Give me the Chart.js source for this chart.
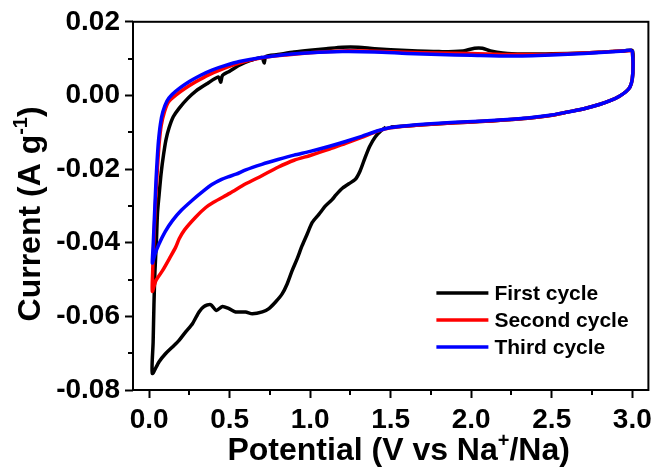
<!DOCTYPE html>
<html>
<head>
<meta charset="utf-8">
<style>
  html, body { margin: 0; padding: 0; background: #ffffff; }
  #wrap { width: 657px; height: 470px; }
</style>
<script src="https://cdn.jsdelivr.net/npm/chart.js@4.4.1/dist/chart.umd.min.js"></script>
</head>
<body>
<div id="wrap"><canvas id="cv" width="657" height="470"></canvas></div>
<script>
// Cyclic voltammograms, potential (V vs Na+/Na) against specific current (A/g)
const seriesNames = ['First cycle', 'Second cycle', 'Third cycle'];
const seriesColors = ['#000000', '#ff0000', '#0000ff'];

// First cycle: from the open-circuit start down to the vertex, back up to 3.0 V and down again
const firstX = [1.47, 1.44, 1.405, 1.37, 1.34, 1.31, 1.28, 1.24, 1.20, 1.16,
  1.136, 1.095, 1.054, 1.013, 0.981, 0.95, 0.919, 0.888, 0.857, 0.826,
  0.785, 0.744, 0.703, 0.641, 0.599, 0.537, 0.496, 0.455, 0.417, 0.382,
  0.341, 0.31, 0.269, 0.227, 0.186, 0.145, 0.103, 0.062, 0.02, 0.025,
  0.030, 0.036, 0.045, 0.052, 0.062, 0.075, 0.09, 0.105, 0.124, 0.15,
  0.186, 0.24, 0.29, 0.36, 0.43, 0.445, 0.455, 0.50, 0.56, 0.63,
  0.70, 0.715, 0.725, 0.80, 0.90, 1.00, 1.10, 1.20, 1.30, 1.40,
  1.60, 1.80, 1.95, 2.02, 2.07, 2.12, 2.25, 2.50, 2.70, 2.85,
  2.95, 3.00, 3.005, 3.0, 2.985, 2.96, 2.92, 2.87, 2.80, 2.70,
  2.60, 2.50, 2.35, 2.20, 2.05, 1.90, 1.75, 1.60, 1.50];
const firstY = [-0.0086, -0.0096, -0.0112, -0.0138, -0.0170, -0.0205, -0.0228, -0.0240, -0.0252, -0.0270,
  -0.0283, -0.0300, -0.0323, -0.0345, -0.0377, -0.0408, -0.0444, -0.0476, -0.0512, -0.0539,
  -0.0561, -0.0579, -0.0588, -0.0593, -0.0588, -0.0588, -0.0579, -0.0573, -0.0584, -0.0568,
  -0.0573, -0.0588, -0.0620, -0.0642, -0.0665, -0.0683, -0.0701, -0.0723, -0.0755, -0.0670,
  -0.0570, -0.0480, -0.0400, -0.0320, -0.0270, -0.0210, -0.0160, -0.0120, -0.0088, -0.0058,
  -0.0035, -0.0008, 0.0012, 0.0032, 0.0050, 0.0036, 0.0054, 0.0066, 0.0082, 0.0095,
  0.0103, 0.0088, 0.0106, 0.0111, 0.0118, 0.0123, 0.0127, 0.0131, 0.0131, 0.0127,
  0.0122, 0.0119, 0.0121, 0.0128, 0.0128, 0.0121, 0.0113, 0.0113, 0.0115, 0.0119,
  0.0121, 0.0122, 0.0085, 0.0045, 0.0022, 0.0010, -0.0002, -0.0013, -0.0024, -0.0036,
  -0.0045, -0.0054, -0.0062, -0.0067, -0.0071, -0.0074, -0.0078, -0.0083, -0.0086];

// Second cycle: 3.0 V -> 0.02 V -> 3.0 V
const secondX = [3.00, 3.005, 3.0, 2.985, 2.96, 2.92, 2.87, 2.80, 2.70, 2.60,
  2.50, 2.35, 2.20, 2.05, 1.90, 1.75, 1.60, 1.50, 1.42, 1.32,
  1.22, 1.12, 1.00, 0.90, 0.80, 0.70, 0.60, 0.50, 0.40, 0.35,
  0.29, 0.22, 0.186, 0.165, 0.13, 0.083, 0.042, 0.02, 0.022, 0.027,
  0.034, 0.042, 0.052, 0.062, 0.075, 0.095, 0.12, 0.17, 0.22, 0.29,
  0.37, 0.45, 0.56, 0.70, 0.85, 1.00, 1.20, 1.40, 1.60, 1.80,
  2.00, 2.25, 2.50, 2.70, 2.85, 2.95, 3.00];
const secondY = [0.0121, 0.0085, 0.0045, 0.0022, 0.0010, -0.0002, -0.0013, -0.0024, -0.0036, -0.0045,
  -0.0054, -0.0062, -0.0067, -0.0071, -0.0074, -0.0078, -0.0083, -0.0088, -0.0097, -0.0114,
  -0.0130, -0.0146, -0.0163, -0.0176, -0.0195, -0.0218, -0.0240, -0.0266, -0.0290, -0.0305,
  -0.0330, -0.0365, -0.0390, -0.0412, -0.0440, -0.0476, -0.0503, -0.0532, -0.0480, -0.0420,
  -0.0345, -0.0272, -0.0195, -0.0132, -0.0082, -0.0045, -0.0018, 0.0002, 0.0018, 0.0037,
  0.0056, 0.0071, 0.0088, 0.0102, 0.0110, 0.0116, 0.0121, 0.0120, 0.0117, 0.0115,
  0.0114, 0.0111, 0.0112, 0.0115, 0.0119, 0.0121, 0.0122];

// Third cycle: 3.0 V -> 0.02 V -> 3.0 V
const thirdX = [3.00, 3.005, 3.0, 2.985, 2.96, 2.92, 2.87, 2.80, 2.70, 2.60,
  2.50, 2.35, 2.20, 2.05, 1.90, 1.75, 1.60, 1.50, 1.42, 1.32,
  1.22, 1.12, 1.00, 0.90, 0.80, 0.70, 0.60, 0.54, 0.49, 0.45,
  0.39, 0.33, 0.27, 0.20, 0.145, 0.10, 0.06, 0.035, 0.02, 0.025,
  0.030, 0.036, 0.043, 0.050, 0.058, 0.070, 0.085, 0.110, 0.144, 0.20,
  0.25, 0.32, 0.39, 0.47, 0.56, 0.70, 0.85, 1.00, 1.20, 1.40,
  1.60, 1.80, 2.00, 2.25, 2.50, 2.70, 2.85, 2.95, 3.00];
const thirdY = [0.0123, 0.0085, 0.0045, 0.0022, 0.0010, -0.0002, -0.0013, -0.0024, -0.0036, -0.0045,
  -0.0053, -0.0061, -0.0066, -0.0070, -0.0073, -0.0077, -0.0082, -0.0087, -0.0096, -0.0111,
  -0.0125, -0.0138, -0.0152, -0.0162, -0.0174, -0.0187, -0.0202, -0.0214, -0.0221, -0.0228,
  -0.0242, -0.0262, -0.0284, -0.0312, -0.0340, -0.0370, -0.0405, -0.0433, -0.0455, -0.0410,
  -0.0360, -0.0300, -0.0230, -0.0175, -0.0125, -0.0078, -0.0045, -0.0016, 0.0003, 0.0023,
  0.0038, 0.0055, 0.0069, 0.0081, 0.0092, 0.0103, 0.0111, 0.0116, 0.0119, 0.0118,
  0.0114, 0.0111, 0.0109, 0.0107, 0.0110, 0.0114, 0.0118, 0.0121, 0.0123];

// Axis ticks
const xTicks = [0, 0.5, 1.0, 1.5, 2.0, 2.5, 3.0];
const xMinorTicks = [0.25, 0.75, 1.25, 1.75, 2.25, 2.75];
const yTicks = [-0.08, -0.06, -0.04, -0.02, 0.00, 0.02];
const yMinorTicks = [-0.07, -0.05, -0.03, -0.01, 0.01];

const FONT = "'Liberation Sans', Arial, Helvetica, sans-serif";

function toPoints(xs, ys) {
  return xs.map((x, i) => ({ x: x, y: ys[i] }));
}

const seriesData = [
  toPoints(firstX, firstY),
  toPoints(secondX, secondY),
  toPoints(thirdX, thirdY)
];

// Titles with superscripts, drawn as mixed-size text runs
function fontStr(size) { return 'bold ' + size + 'px ' + FONT; }
function runWidth(ctx, parts, size, supSize) {
  let w = 0;
  parts.forEach(p => { ctx.font = fontStr(p.sup ? supSize : size); w += ctx.measureText(p.t).width; });
  return w;
}
function drawRuns(ctx, parts, x0, baseY, size, supSize, raise) {
  let x = x0;
  ctx.textAlign = 'left';
  ctx.textBaseline = 'alphabetic';
  parts.forEach(p => {
    ctx.font = fontStr(p.sup ? supSize : size);
    ctx.fillText(p.t, x, p.sup ? baseY - raise : baseY);
    x += ctx.measureText(p.t).width;
  });
}

const decor = {
  id: 'cvDecor',
  afterDraw(chart) {
    const ctx = chart.ctx;
    const ca = chart.chartArea;
    const xs = chart.scales.x, ys = chart.scales.y;
    ctx.save();
    ctx.strokeStyle = '#000';
    ctx.lineWidth = 2;
    // frame
    ctx.strokeRect(ca.left, ca.top, ca.right - ca.left, ca.bottom - ca.top);
    // minor ticks
    ctx.beginPath();
    xMinorTicks.forEach(v => {
      const px = Math.round(xs.getPixelForValue(v));
      ctx.moveTo(px, ca.bottom); ctx.lineTo(px, ca.bottom + 5);
    });
    yMinorTicks.forEach(v => {
      const py = Math.round(ys.getPixelForValue(v));
      ctx.moveTo(ca.left, py); ctx.lineTo(ca.left - 5, py);
    });
    ctx.stroke();

    // axis titles
    ctx.fillStyle = '#000';
    const tSize = 32, sSize = 20, raise = 13;
    const xParts = [{ t: 'Potential (V vs Na' }, { t: '+', sup: true }, { t: '/Na)' }];
    const xw = runWidth(ctx, xParts, tSize, sSize);
    const xc = (ca.left + ca.right) / 2 + 8;
    drawRuns(ctx, xParts, xc - xw / 2, ca.bottom + 70, tSize, sSize, raise);

    const yParts = [{ t: 'Current (A g' }, { t: '-1', sup: true }, { t: ')' }];
    const yw = runWidth(ctx, yParts, tSize, sSize);
    ctx.save();
    ctx.translate(ca.left - 93, (ca.top + ca.bottom) / 2 + 8);
    ctx.rotate(-Math.PI / 2);
    drawRuns(ctx, yParts, -yw / 2, 0, tSize, sSize, raise);
    ctx.restore();

    // legend
    const lx1 = ca.right - 212, lx2 = ca.right - 160, tx = ca.right - 154;
    const rows = [ca.bottom - 97, ca.bottom - 70, ca.bottom - 43];
    chart.data.datasets.forEach((ds, i) => {
      const y = rows[i];
      ctx.strokeStyle = ds.borderColor;
      ctx.lineWidth = 3.5;
      ctx.beginPath();
      ctx.moveTo(lx1, y); ctx.lineTo(lx2, y);
      ctx.stroke();
      ctx.fillStyle = '#000';
      ctx.font = fontStr(21);
      ctx.textAlign = 'left';
      ctx.textBaseline = 'middle';
      ctx.fillText(ds.label, tx, y + 1);
    });
    ctx.restore();
  }
};

new Chart(document.getElementById('cv'), {
  type: 'line',
  data: {
    datasets: seriesNames.map((name, i) => ({
      label: name,
      data: seriesData[i],
      borderColor: seriesColors[i],
      backgroundColor: seriesColors[i],
      borderWidth: 3.5,
      pointRadius: 0,
      tension: 0.25,
      fill: false,
      order: 3 - i
    }))
  },
  options: {
    responsive: false,
    animation: false,
    events: [],
    layout: { padding: { top: 20, right: 8, left: 0, bottom: 0 } },
    plugins: {
      legend: { display: false },
      tooltip: { enabled: false },
      title: { display: false }
    },
    scales: {
      x: {
        type: 'linear',
        min: -0.1,
        max: 3.1,
        afterBuildTicks: s => { s.ticks = xTicks.map(v => ({ value: v })); },
        afterFit: s => { s.height = 80; },
        ticks: {
          color: '#000',
          padding: 5,
          maxRotation: 0,
          font: { family: FONT, size: 28, weight: 'bold' },
          callback: v => Number(v).toFixed(1)
        },
        grid: { drawOnChartArea: false, drawTicks: true, tickLength: 8, tickWidth: 2, tickColor: '#000' },
        border: { display: false }
      },
      y: {
        type: 'linear',
        min: -0.08,
        max: 0.02,
        afterBuildTicks: s => { s.ticks = yTicks.map(v => ({ value: v })); },
        afterFit: s => { s.width = 133; },
        ticks: {
          color: '#000',
          padding: 5,
          font: { family: FONT, size: 28, weight: 'bold' },
          callback: v => Number(v).toFixed(2)
        },
        grid: { drawOnChartArea: false, drawTicks: true, tickLength: 8, tickWidth: 2, tickColor: '#000' },
        border: { display: false }
      }
    }
  },
  plugins: [decor]
});
</script>
</body>
</html>
